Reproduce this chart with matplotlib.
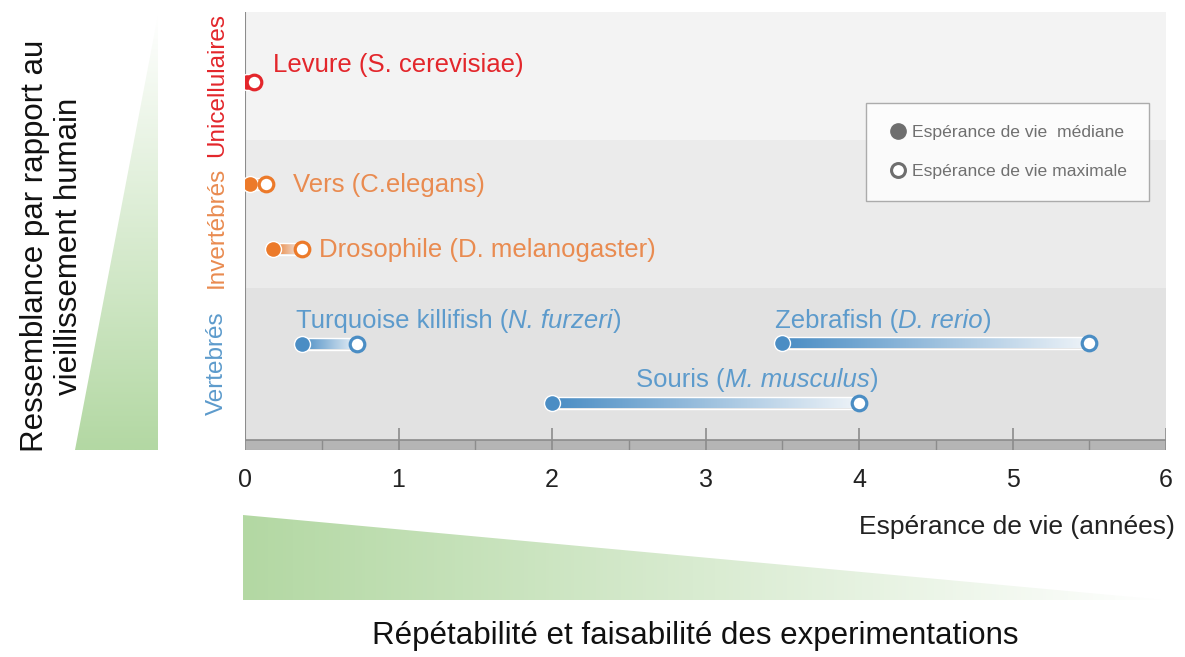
import numpy as np
import matplotlib.pyplot as plt
from matplotlib.colors import LinearSegmentedColormap, to_rgb
from matplotlib.lines import Line2D
from matplotlib.patches import Polygon

plt.rcParams['font.family'] = ['Liberation Sans', 'DejaVu Sans']

# data (years)
species = ['Levure', 'Vers', 'Drosophile', 'Turquoise killifish', 'Zebrafish', 'Souris']
latin = ['S. cerevisiae', 'C.elegans', 'D. melanogaster', 'N. furzeri', 'D. rerio', 'M. musculus']
groups = ['Unicellulaires', 'Invertébrés', 'Invertébrés', 'Vertebrés', 'Vertebrés', 'Vertebrés']
median_life = [0.015, 0.03, 0.18, 0.37, 3.5, 2.0]
max_life = [0.06, 0.14, 0.37, 0.73, 5.5, 4.0]
xticks = [0, 1, 2, 3, 4, 5, 6]

# layout
row_y = [368, 266, 201, 106, 107, 47]
label_xy = [(0.18, 385), (0.31, 265), (0.48, 200), (0.33, 129), (3.45, 129), (2.55, 70)]
italic_latin = [False, False, False, True, True, True]
group_color = {'Unicellulaires': '#e3262b', 'Invertébrés': '#ec7a2a', 'Vertebrés': '#4a8dc4'}
text_color = {'Unicellulaires': '#e3262b', 'Invertébrés': '#e98b50', 'Vertebrés': '#5d9bcc'}
FS = 18.5

W, H = 1185, 657
fig = plt.figure(figsize=(W / 100, H / 100), dpi=100)

# background axes in pixel coordinates for the decorations
bg = fig.add_axes([0, 0, 1, 1], zorder=-1)
bg.set_xlim(0, W)
bg.set_ylim(H, 0)
bg.axis('off')

green = np.array(to_rgb('#b3d8a3'))
white = np.array([1.0, 1.0, 1.0])
t = np.linspace(0, 1, 256)

# left triangle (vertical gradient)
img = (white[None, :] * (1 - t[:, None]) + green[None, :] * t[:, None])[:, None, :]
tri = Polygon([(158, 15), (75, 450), (158, 450)], closed=True, transform=bg.transData)
im = bg.imshow(img, extent=[75, 158, 450, 15], aspect='auto', origin='upper')
im.set_clip_path(tri)

# bottom triangle (horizontal gradient)
img2 = (green[None, :] * (1 - t[:, None]) + white[None, :] * t[:, None])[None, :, :]
tri2 = Polygon([(243, 515), (243, 600), (1165, 600)], closed=True, transform=bg.transData)
im2 = bg.imshow(img2, extent=[243, 1165, 600, 515], aspect='auto', origin='upper')
im2.set_clip_path(tri2)
bg.set_xlim(0, W)
bg.set_ylim(H, 0)

bg.text(52, 246, 'Ressemblance par rapport au\nvieillissement humain', rotation=90,
        ha='center', va='center', fontsize=22.5, multialignment='center', color='#111111',
        linespacing=1.15)
bg.text(695, 636, 'Répétabilité et faisabilité des experimentations', ha='center',
        va='center', fontsize=22.5, color='#111111')
bg.text(1175, 527, 'Espérance de vie (années)', ha='right', va='center', fontsize=19,
        color='#222222')
bg.text(217, 85, 'Unicellulaires', rotation=90, ha='center', va='center', fontsize=17.5,
        color=text_color['Unicellulaires'])
bg.text(217, 227, 'Invertébrés', rotation=90, ha='center', va='center', fontsize=17.5,
        color=text_color['Invertébrés'])
bg.text(217, 363, 'Vertebrés', rotation=90, ha='center', va='center', fontsize=17.5,
        color=text_color['Vertebrés'])

# main axes: y in pixel offsets from ruler bottom
ax = fig.add_axes([245 / W, 1 - 450 / H, (1166 - 245) / W, 438 / H])
ax.set_facecolor('white')
for s in ax.spines.values():
    s.set_visible(False)

ax.axhspan(310, 438, color='#f3f3f3', lw=0, zorder=0)
ax.axhspan(162, 310, color='#ebebeb', lw=0, zorder=0)
ax.axhspan(10, 162, color='#e2e2e2', lw=0, zorder=0)
ax.axhspan(0, 10, color='#b5b5b5', lw=0, zorder=1)
ax.axhline(10, color='#8c8c8c', lw=1.2, zorder=2)
ax.axhline(0, color='#9a9a9a', lw=0.8, zorder=2)
ax.vlines(xticks, 0, 22, color='#8c8c8c', lw=1.2, zorder=2)
ax.vlines(np.array(xticks[:-1]) + 0.5, 0, 10, color='#8c8c8c', lw=1.0, zorder=2)
ax.plot([0, 0], [10, 438], color='#8c8c8c', lw=1.5, zorder=2)

for i in range(len(species)):
    col = group_color[groups[i]]
    y = row_y[i]
    x0, x1 = median_life[i], max_life[i]
    cmap = LinearSegmentedColormap.from_list('g', [col, '#eef3f8'])
    ax.imshow(np.linspace(0, 1, 256)[None, :], cmap=cmap, extent=[x0, x1, y - 5.5, y + 5.5],
              aspect='auto', zorder=3, interpolation='bilinear')
    ax.plot([x0, x1], [y + 6, y + 6], color='white', lw=1, zorder=3)
    ax.plot([x0, x1], [y - 6, y - 6], color='white', lw=1, zorder=3)
    ax.plot(x0, y, 'o', ms=11.5, mfc=col, mec='white', mew=1, zorder=4)
    ax.plot(x1, y, 'o', ms=10.5, mfc='white', mec=col, mew=2.3, zorder=5)

    tc = text_color[groups[i]]
    lx, ly = label_xy[i]
    if italic_latin[i]:
        t1 = ax.text(lx, ly, species[i] + ' (', fontsize=FS, color=tc, va='center', ha='left', zorder=6)
        t2 = ax.annotate(latin[i], xy=(1, 0), xycoords=t1, va='bottom', ha='left',
                         fontsize=FS, color=tc, style='italic', zorder=6)
        ax.annotate(')', xy=(1, 0), xycoords=t2, va='bottom', ha='left',
                    fontsize=FS, color=tc, zorder=6)
    else:
        ax.text(lx, ly, f'{species[i]} ({latin[i]})', fontsize=FS, color=tc,
                va='center', ha='left', zorder=6)

ax.set_xlim(0, 6)
ax.set_ylim(0, 438)
ax.set_yticks([])
ax.set_xticks(xticks)
ax.set_xticklabels([str(v) for v in xticks], fontsize=18, color='#222222')
ax.tick_params(axis='x', length=0, pad=13)

handles = [Line2D([], [], marker='o', ls='', ms=11, mfc='#6e6e6e', mec='#6e6e6e'),
           Line2D([], [], marker='o', ls='', ms=10, mfc='white', mec='#6e6e6e', mew=2.2)]
leg = ax.legend(handles, ['Espérance de vie  médiane', 'Espérance de vie maximale'],
                loc='upper left', bbox_to_anchor=((866 - 245) / 921, (450 - 103) / 438),
                fontsize=12.6, frameon=True, fancybox=False, edgecolor='#999999',
                labelspacing=1.35, borderpad=1.25, handletextpad=0.2, handlelength=1.2,
                borderaxespad=0, labelcolor='#707070')
leg.get_frame().set_linewidth(1)
leg.set_zorder(7)

fig.savefig('out.png', dpi=100)
